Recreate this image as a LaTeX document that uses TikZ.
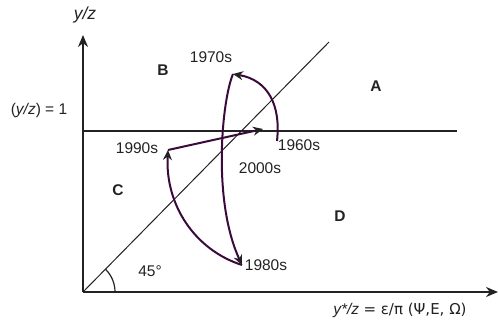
\documentclass[tikz,border=0pt]{standalone}
\usepackage{fontspec}
\setmainfont{Liberation Sans}
\newfontfamily\greekfont{DejaVu Sans}
\usetikzlibrary{arrows.meta}
\definecolor{curve}{HTML}{3A0A3A}
\definecolor{ink}{HTML}{222222}
\begin{document}
\begin{tikzpicture}[x=1pt,y=-1pt,
  lbl/.style={font=\fontsize{15.5}{18}\selectfont,text=ink,inner sep=0pt},
  reg/.style={font=\fontsize{15.5}{18}\selectfont\bfseries,text=ink,inner sep=0pt},
  axis/.style={line width=2.4pt,draw=ink,-{Stealth[length=12pt,width=10pt]}},
  path/.style={line width=2pt,draw=curve,-{Stealth[length=10pt,width=9pt,color=ink]}}]
\useasboundingbox (0,0) rectangle (498,323);
\coordinate (O) at (83,292);
\coordinate (ytip) at (83,35);
\coordinate (xtip) at (498,292);
\coordinate (hl) at (83,131);
\coordinate (hr) at (457,131);
\coordinate (dtop) at (329,42);
% lines
\draw[line width=1.5pt,ink] (hl) -- (hr);
\draw[line width=1pt,ink] (O) -- (dtop);
\draw[line width=1.2pt,ink] ([xshift=32pt]O) arc[start angle=0,end angle=45,radius=32pt];
\draw[axis] (O) -- (ytip);
\draw[axis] (O) -- (xtip);
% points
\coordinate (p60) at (277,141);
\coordinate (p70) at (233,74);
\coordinate (p80) at (242,265);
\coordinate (p90) at (168,150);
\coordinate (p00) at (263,129);
\draw[path] (p60) .. controls (281,105) and (268,80) .. (p70);
\draw[path] (p70) .. controls (222,100) and (212,200) .. (p80);
\draw[path] (p80) .. controls (195,250) and (165,205) .. (p90);
\draw[path] (p90) -- (p00);
% labels
\node[lbl,font=\fontsize{17.5}{20}\selectfont\itshape] (ylab) at (85,15) {y/z};
\node[lbl] (ylev) at (39,110) {(\textit{y/z}) = 1};
\node[lbl] (xlab) at (400,310) {\textit{y*/z} {\greekfont\fontsize{15}{18}\selectfont = ε/π (Ψ,E, Ω)}};
\node[lbl] (a45) at (150,271) {45°};
\node[reg] (A) at (376,86) {A};
\node[reg] (B) at (163,70) {B};
\node[reg] (C) at (118,190) {C};
\node[reg] (D) at (340,216) {D};
\node[lbl] (l70) at (211,57) {1970s};
\node[lbl] (l60) at (299,145) {1960s};
\node[lbl] (l90) at (137,148) {1990s};
\node[lbl] (l00) at (260,168) {2000s};
\node[lbl] (l80) at (266,265) {1980s};
\end{tikzpicture}
\end{document}
